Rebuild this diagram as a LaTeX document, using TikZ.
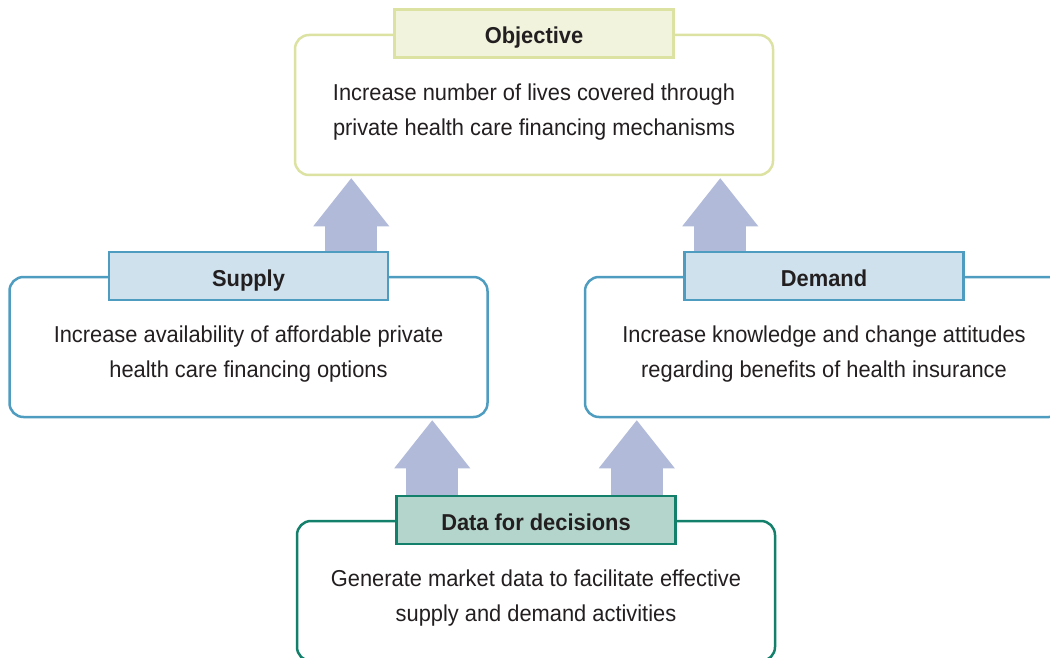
\documentclass[tikz,border=0pt]{standalone}
\usepackage{fontspec}
\setmainfont[FakeStretch=0.95]{Liberation Sans}
\usetikzlibrary{arrows.meta}

\definecolor{ink}{HTML}{231F20}
\definecolor{objline}{HTML}{DCE2A2}
\definecolor{objfill}{HTML}{F1F3DD}
\definecolor{sdline}{HTML}{4E9DC0}
\definecolor{sdfill}{HTML}{CFE1ED}
\definecolor{dataline}{HTML}{12806A}
\definecolor{datafill}{HTML}{B3D5CB}
\definecolor{arrowfill}{HTML}{B1BAD9}

\tikzset{
  bigbox/.style={draw=#1, fill=white, rounded corners=14pt, line width=2.5pt,
    minimum width=478pt, minimum height=140pt},
  titlebox/.style={draw=#1, line width=2.5pt, minimum width=279pt, minimum height=48pt,
    text height=20.5pt, text depth=0pt, text=ink, font=\fontsize{23}{28}\selectfont\bfseries},
  bodytext/.style={align=center, text=ink, font=\fontsize{23}{35}\selectfont},
  uparrow/.style={arrowfill, line width=52pt,
    -{Triangle[width=76pt,length=48pt,line width=0pt]}}
}

\begin{document}
\begin{tikzpicture}[x=1pt,y=-1pt]
    \useasboundingbox (0,0) rectangle (1050,658);
    \clip (0,0) rectangle (1050,658);
    % boxes
    \node[bigbox=objline] (objbox) at (534,105) {};
    \node[titlebox=objline, fill=objfill] (objtitle) at (objbox.north) {Objective};
    \node[bodytext] (objtext) at ([yshift=-7pt]objbox.center) {Increase number of lives covered through\\private health care financing mechanisms};

    \node[bigbox=sdline] (supbox) at (248.5,347) {};
    \node[titlebox=sdline, fill=sdfill] (suptitle) at (supbox.north) {Supply};
    \node[bodytext] (suptext) at ([yshift=-7pt]supbox.center) {Increase availability of affordable private\\health care financing options};

    \node[bigbox=sdline] (dembox) at (824,347) {};
    \node[titlebox=sdline, fill=sdfill] (demtitle) at (dembox.north) {Demand};
    \node[bodytext] (demtext) at ([yshift=-7pt]dembox.center) {Increase knowledge and change attitudes\\regarding benefits of health insurance};

    \node[bigbox=dataline] (databox) at (536,591) {};
    \node[titlebox=dataline, fill=datafill] (datatitle) at (databox.north) {Data for decisions};
    \node[bodytext] (datatext) at ([yshift=-7pt]databox.center) {Generate market data to facilitate effective\\supply and demand activities};

    % arrows
    \draw[uparrow] ([xshift=-38pt]suptitle.north east) -- ([xshift=-38pt,yshift=-2pt]suptitle.north east |- objbox.south);
    \draw[uparrow] ([xshift=37pt]demtitle.north west) -- ([xshift=37pt,yshift=-2pt]demtitle.north west |- objbox.south);
    \draw[uparrow] ([xshift=37pt]datatitle.north west) -- ([xshift=37pt,yshift=-2pt]datatitle.north west |- supbox.south);
    \draw[uparrow] ([xshift=-40pt]datatitle.north east) -- ([xshift=-40pt,yshift=-2pt]datatitle.north east |- dembox.south);
\end{tikzpicture}
\end{document}
